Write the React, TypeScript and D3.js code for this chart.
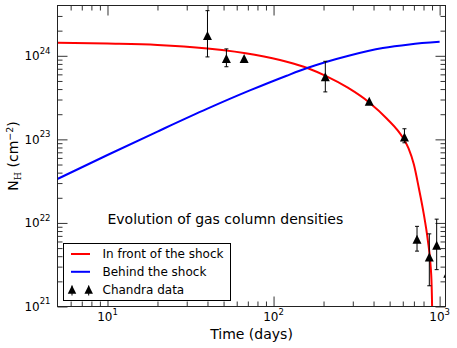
import React, { useEffect, useRef } from "react";
import * as d3 from "d3";

const W = 457;
const H = 348;

// gas column in front of the shock (days -> N_H, cm^-2)
const frontDays = [5, 10, 20, 40, 77, 120, 161, 206, 280, 378, 480, 600, 650, 700, 750, 800, 850, 880, 895, 903, 907];
const frontNH = [1.43e24, 1.4e24, 1.35e24, 1.22e24, 1.03e24, 8.5e23, 7.1e23, 5.75e23, 4.15e23, 2.75e23, 1.78e23, 1.05e23, 7.8e22, 5.0e22, 2.6e22, 1.33e22, 6.1e21, 3.3e21, 1.8e21, 7e20, 1e20];

// gas column behind the shock
const behindDays = [5, 10, 20, 40, 72, 120, 161, 287, 455, 658, 1000];
const behindNH = [3.36e22, 6.5e22, 1.24e23, 2.33e23, 3.85e23, 5.78e23, 7.19e23, 1.01e24, 1.24e24, 1.37e24, 1.47e24];

// Chandra measurements, with error bar ends (null = no bar)
const obsDays = [40, 52, 66.5, 205, 377, 614, 731, 867, 960, 1120];
const obsNH = [1.75e24, 9.3e23, 9.3e23, 5.6e23, 2.85e23, 1.07e23, 6.4e21, 3.9e21, 5.4e21, 2.5e21];
const obsLo = [9.7e23, 7.4e23, null, 3.7e23, null, 9.1e22, 4.6e21, 1.77e21, 2.76e21, null];
const obsHi = [3.47e24, 1.21e24, null, 8.6e23, null, 1.34e23, 9.1e21, 7.4e21, 1.11e22, null];

const xMajor = [10, 100, 1000];
const xExp = ["1", "2", "3"];
const yMajor = [1e21, 1e22, 1e23, 1e24];
const yExp = ["21", "22", "23", "24"];

const legendItems = ["In front of the shock", "Behind the shock", "Chandra data"];

const font = "DejaVu Sans, sans-serif";

function minorTicks(lo: number, hi: number) {
  const out: number[] = [];
  for (let p = Math.floor(Math.log10(lo)); p <= Math.ceil(Math.log10(hi)); p++) {
    for (let k = 2; k <= 9; k++) {
      const v = k * Math.pow(10, p);
      if (v > lo && v < hi) out.push(v);
    }
  }
  return out;
}

function triangle(cx: number, cy: number, s: number) {
  const h = s / 2;
  return `M${cx},${cy - h}L${cx + h},${cy + h}L${cx - h},${cy + h}Z`;
}

export default function App() {
  const ref = useRef<SVGSVGElement>(null);

  useEffect(() => {
    const svg = d3.select(ref.current);
    svg.selectAll("*").remove();

    const left = 57.5, right = 445.5, top = 5.5, bottom = 306.5;
    const x = d3.scaleLog().domain([5, 1085]).range([left, right]);
    const y = d3.scaleLog().domain([1e21, 4e24]).range([bottom, top]);

    svg.append("rect").attr("width", W).attr("height", H).attr("fill", "#fff");

    svg.append("defs").append("clipPath").attr("id", "plotclip")
      .append("rect").attr("x", left).attr("y", top)
      .attr("width", right - left).attr("height", bottom - top);

    // ticks on all four sides, pointing inwards
    const tickColor = "#333";
    const addAxis = (axis: any, tx: number, ty: number) => {
      svg.append("g")
        .attr("transform", `translate(${tx},${ty})`)
        .call(axis)
        .call((g: any) => g.select(".domain").remove())
        .call((g: any) => g.selectAll("text").remove())
        .call((g: any) => g.selectAll("line").attr("stroke", tickColor));
    };
    const xMinor = minorTicks(5, 1085);
    const yMinor = minorTicks(1e21, 4e24);
    addAxis(d3.axisBottom(x).tickValues(xMajor).tickSize(-10).tickSizeOuter(0), 0, bottom);
    addAxis(d3.axisBottom(x).tickValues(xMinor).tickSize(-5).tickSizeOuter(0), 0, bottom);
    addAxis(d3.axisTop(x).tickValues(xMajor).tickSize(-10).tickSizeOuter(0), 0, top);
    addAxis(d3.axisTop(x).tickValues(xMinor).tickSize(-5).tickSizeOuter(0), 0, top);
    addAxis(d3.axisLeft(y).tickValues(yMajor).tickSize(-10).tickSizeOuter(0), left, 0);
    addAxis(d3.axisLeft(y).tickValues(yMinor).tickSize(-5).tickSizeOuter(0), left, 0);
    addAxis(d3.axisRight(y).tickValues(yMajor).tickSize(-10).tickSizeOuter(0), right, 0);
    addAxis(d3.axisRight(y).tickValues(yMinor).tickSize(-5).tickSizeOuter(0), right, 0);

    // tick labels as 10^n
    const xl = svg.append("g").attr("font-family", font).attr("font-size", 12).attr("fill", "#000");
    xMajor.forEach((v, i) => {
      const t = xl.append("text").attr("x", x(v)).attr("y", bottom + 14.5).attr("text-anchor", "middle");
      t.append("tspan").text("10");
      t.append("tspan").attr("dy", -6).attr("font-size", 8.5).text(xExp[i]);
    });
    yMajor.forEach((v, i) => {
      const t = xl.append("text").attr("x", left - 7).attr("y", y(v) + 4.2).attr("text-anchor", "end");
      t.append("tspan").text("10");
      t.append("tspan").attr("dy", -6.5).attr("font-size", 8.5).text(yExp[i]);
    });

    // axis titles
    svg.append("text")
      .attr("x", (left + right) / 2).attr("y", 338.5)
      .attr("text-anchor", "middle").attr("font-family", font).attr("font-size", 14)
      .text("Time (days)");
    const yt = svg.append("text")
      .attr("transform", `translate(18,${(top + bottom) / 2}) rotate(-90)`)
      .attr("text-anchor", "middle").attr("font-family", font).attr("font-size", 14);
    yt.append("tspan").text("N");
    yt.append("tspan").attr("dy", 3).attr("font-size", 9.5).attr("font-family", "DejaVu Serif, serif").text("H");
    yt.append("tspan").attr("dy", -3).text(" (cm");
    yt.append("tspan").attr("dy", -5.5).attr("font-size", 9.5).text("\u22122");
    yt.append("tspan").attr("dy", 5.5).text(")");

    // curves
    const plot = svg.append("g").attr("clip-path", "url(#plotclip)");
    const line = d3.line<[number, number]>()
      .x(d => x(d[0]))
      .y(d => y(d[1]))
      .curve(d3.curveMonotoneX);
    plot.append("path")
      .attr("d", line(frontDays.map((d, i) => [d, frontNH[i]] as [number, number])))
      .attr("fill", "none").attr("stroke", "#ff0000").attr("stroke-width", 2);
    plot.append("path")
      .attr("d", line(behindDays.map((d, i) => [d, behindNH[i]] as [number, number])))
      .attr("fill", "none").attr("stroke", "#0000ff").attr("stroke-width", 2);

    // Chandra points with error bars
    const cap = 2;
    obsDays.forEach((d, i) => {
      const cx = x(d);
      const lo = obsLo[i], hi = obsHi[i];
      if (lo !== null && hi !== null) {
        const y1 = y(lo), y2 = y(hi);
        plot.append("line").attr("x1", cx).attr("x2", cx).attr("y1", y1).attr("y2", y2)
          .attr("stroke", "#000").attr("stroke-width", 1);
        [y1, y2].forEach(yy => {
          plot.append("line").attr("x1", cx - cap).attr("x2", cx + cap).attr("y1", yy).attr("y2", yy)
            .attr("stroke", "#000").attr("stroke-width", 1);
        });
      }
      plot.append("path").attr("d", triangle(cx, y(obsNH[i]), 9)).attr("fill", "#000");
    });

    // frame
    svg.append("rect")
      .attr("x", left).attr("y", top).attr("width", right - left).attr("height", bottom - top)
      .attr("fill", "none").attr("stroke", "#222").attr("stroke-width", 1);

    // annotation anchored in data coordinates
    svg.append("text")
      .attr("x", x(10)).attr("y", y(1e22) + 1)
      .attr("font-family", font).attr("font-size", 14)
      .text("Evolution of gas column densities");

    // legend
    const lg = svg.append("g");
    lg.append("rect").attr("x", 63.5).attr("y", 243.5).attr("width", 167).attr("height", 57)
      .attr("fill", "#fff").attr("stroke", "#000").attr("stroke-width", 1);
    const rows = [254, 271.8, 289.5];
    const colors = ["#ff0000", "#0000ff"];
    legendItems.forEach((label, i) => {
      const ry = rows[i];
      if (i < 2) {
        lg.append("line").attr("x1", 71).attr("x2", 90).attr("y1", ry).attr("y2", ry)
          .attr("stroke", colors[i]).attr("stroke-width", 2);
      } else {
        [72, 88.7].forEach(cx => {
          lg.append("line").attr("x1", cx).attr("x2", cx).attr("y1", ry - 4).attr("y2", ry + 6)
            .attr("stroke", "#000").attr("stroke-width", 1);
          lg.append("path").attr("d", triangle(cx, ry, 8.5)).attr("fill", "#000");
        });
      }
      lg.append("text").attr("x", 102.5).attr("y", ry + 4.3)
        .attr("font-family", font).attr("font-size", 12).text(label);
    });
  }, []);

  return (
    <svg
      ref={ref}
      width={W}
      height={H}
      style={{ position: "absolute", left: 0, top: 0 }}
    />
  );
}
